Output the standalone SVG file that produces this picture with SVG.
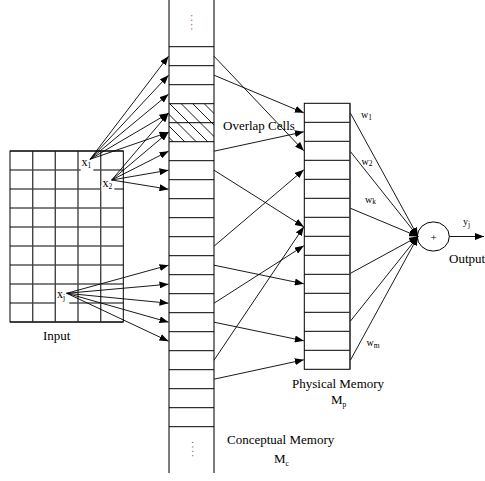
<svg xmlns="http://www.w3.org/2000/svg" width="485" height="481" viewBox="0 0 485 481">
  <style>
    text { font-family: "Liberation Serif", "Times New Roman", serif; fill: #000; }
    .lbl { font-size: 13px; }
    .var { font-size: 12px; }
    .w { font-size: 10px; }
    .sub { font-size: 7.5px; }
    .grid { fill: none; stroke: #000; stroke-width: 1; }
    .side { fill: none; stroke: #444; stroke-width: 1.4; }
    .hatch { stroke: #000; stroke-width: 0.9; }
    .conn { fill: none; stroke: #000; stroke-width: 0.9; marker-end: url(#ah); }
    .wline { fill: none; stroke: #000; stroke-width: 0.9; marker-end: url(#ah); }
    .dots { font-size: 10px; fill: #555; letter-spacing: 1.9px; }
  </style>
  <defs>
    <marker id="ah" markerUnits="userSpaceOnUse" markerWidth="9" markerHeight="7" viewBox="0 0 9 7" refX="9" refY="3.5" orient="auto">
      <path d="M0,0 L9,3.5 L0,7 z" fill="#000"/>
    </marker>
    <clipPath id="overlapClip">
      <rect x="169" y="103.7" width="45" height="38"/>
    </clipPath>
  </defs>
  <rect width="485" height="481" fill="#fff"/>

  <!-- Input grid: 5 columns x 9 rows -->
  <g id="input">
    <path class="grid" d="M10,151H123.3M10,170H123.3M10,189H123.3M10,208H123.3M10,227H123.3M10,246H123.3M10,265H123.3M10,284H123.3M10,303H123.3M10,322H123.3"/>
    <path class="side" d="M32.7,151V322M55.3,151V322M78,151V322M100.7,151V322"/>
    <rect class="grid" x="10" y="151" width="113.3" height="171"/>
    <!-- input element labels sit on white boxes that break the grid line -->
    <rect x="80.7" y="166" width="12.6" height="6" fill="#fff"/>
    <text class="var" x="81.5" y="165.5">x<tspan class="sub" dy="2">1</tspan></text>
    <rect x="101.4" y="185" width="12.9" height="6" fill="#fff"/>
    <text class="var" x="102.5" y="187">x<tspan class="sub" dy="2">2</tspan></text>
    <rect x="56" y="299" width="13.3" height="6" fill="#fff"/>
    <text class="var" x="57" y="297.5">x<tspan class="sub" dy="2.5">j</tspan></text>
    <text class="lbl" x="43" y="340">Input</text>
  </g>

  <!-- Conceptual memory column -->
  <g id="conceptual-memory">
    <line class="side" x1="169" y1="0" x2="169" y2="473"/>
    <line class="side" x1="214" y1="0" x2="214" y2="473"/>
    <path class="grid" d="M169,46.7H214M169,65.7H214M169,84.7H214M169,103.7H214M169,122.7H214M169,141.7H214M169,160.7H214M169,179.7H214M169,198.7H214M169,217.7H214M169,236.7H214M169,255.7H214M169,274.7H214M169,293.7H214M169,312.7H214M169,331.7H214M169,350.7H214M169,369.7H214M169,388.7H214M169,407.7H214M169,426.7H214"/>
    <g clip-path="url(#overlapClip)">
      <path class="hatch" d="M131.5,100L181.5,150M143,100L193,150M154.5,100L204.5,150M166,100L216,150M177.5,100L227.5,150M189,100L239,150M200.5,100L250.5,150"/>
    </g>
    <text class="dots" transform="translate(190.7,14.6) rotate(90)">....</text>
    <text class="dots" transform="translate(191.7,441.3) rotate(90)">....</text>
    <text class="lbl" x="227" y="444">Conceptual Memory</text>
    <text class="lbl" x="274" y="463">M<tspan class="sub" font-size="9" dy="3">c</tspan></text>
  </g>

  <g id="overlap-label">
    <text class="lbl" x="223" y="130">Overlap Cells</text>
  </g>

  <!-- Physical memory column -->
  <g id="physical-memory">
    <path class="grid" d="M304.3,122.3H350M304.3,141.3H350M304.3,160.3H350M304.3,179.3H350M304.3,198.3H350M304.3,217.3H350M304.3,236.3H350M304.3,255.3H350M304.3,274.3H350M304.3,293.3H350M304.3,312.3H350M304.3,331.3H350M304.3,350.3H350"/>
    <rect class="grid" x="304.3" y="103.3" width="45.7" height="266"/>
    <line class="side" x1="350" y1="103.3" x2="350" y2="369.3"/>
    <text class="lbl" x="292" y="388">Physical Memory</text>
    <text class="lbl" x="331" y="404">M<tspan class="sub" font-size="9" dy="3">p</tspan></text>
  </g>

  <!-- Summing unit -->
  <g id="sum">
    <ellipse cx="433.3" cy="236.5" rx="16" ry="14.6" fill="#fff" stroke="#000" stroke-width="1"/>
    <text x="433.5" y="240.5" font-size="11" text-anchor="middle">+</text>
    <text class="w" x="463" y="224.5" font-size="11">y<tspan class="sub" dy="2">j</tspan></text>
    <text class="lbl" x="449" y="263">Output</text>
  </g>

  <!-- Weight labels -->
  <g id="weights">
    <text class="w" x="361" y="118">w<tspan class="sub" dy="1.5">1</tspan></text>
    <text class="w" x="361.5" y="164.5">w<tspan class="sub" dy="1.5">2</tspan></text>
    <text class="w" x="365" y="202.5">w<tspan class="sub" dy="1.5">k</tspan></text>
    <text class="w" x="366.5" y="346">w<tspan class="sub" dy="1.5">m</tspan></text>
  </g>

  <g id="connectors">
    <!-- x1 fan -->
    <path class="conn" d="M90,159.3L168.5,56.2"/>
    <path class="conn" d="M90,159.3L168.5,75.2"/>
    <path class="conn" d="M90,159.3L168.5,94.2"/>
    <path class="conn" d="M90,159.3L168.5,113.2"/>
    <path class="conn" d="M90,159.3L168.5,132.2"/>
    <!-- x2 fan -->
    <path class="conn" d="M111.7,180L168.5,113.2"/>
    <path class="conn" d="M111.7,180L168.5,132.2"/>
    <path class="conn" d="M111.7,180L168.5,151.2"/>
    <path class="conn" d="M111.7,180L168.5,170.2"/>
    <path class="conn" d="M111.7,180L168.5,189.2"/>
    <!-- xj fan -->
    <path class="conn" d="M66.7,293.3L168.5,265.2"/>
    <path class="conn" d="M66.7,293.3L168.5,284.2"/>
    <path class="conn" d="M66.7,293.3L168.5,303.2"/>
    <path class="conn" d="M66.7,293.3L168.5,322.2"/>
    <path class="conn" d="M66.7,293.3L168.5,341.2"/>
    <!-- conceptual to physical mapping -->
    <path class="conn" d="M214,56.2L303.8,150.8"/>
    <path class="conn" d="M214,75.2L303.8,112.8"/>
    <path class="conn" d="M214,151.2L303.8,131.8"/>
    <path class="conn" d="M214,170.2L303.8,226.8"/>
    <path class="conn" d="M214,246.2L303.8,169.8"/>
    <path class="conn" d="M214,265.2L303.8,283.8"/>
    <path class="conn" d="M214,303.2L303.8,245.8"/>
    <path class="conn" d="M214,322.2L303.8,340.8"/>
    <path class="conn" d="M214,360.2L303.8,226.8"/>
    <path class="conn" d="M214,379.2L303.8,359.8"/>
    <!-- weighted lines into the summing unit -->
    <path class="wline" d="M350.5,113.3L418,236.5"/>
    <path class="wline" d="M350.5,151.7L418,236.5"/>
    <path class="wline" d="M350.5,208.3L418,236.5"/>
    <path class="wline" d="M350.5,273.3L418,236.5"/>
    <path class="wline" d="M350.5,321L418,236.5"/>
    <path class="wline" d="M350.5,360L418,236.5"/>
    <!-- output -->
    <path class="conn" d="M449.3,236.5L484,236.5"/>
  </g>
</svg>
